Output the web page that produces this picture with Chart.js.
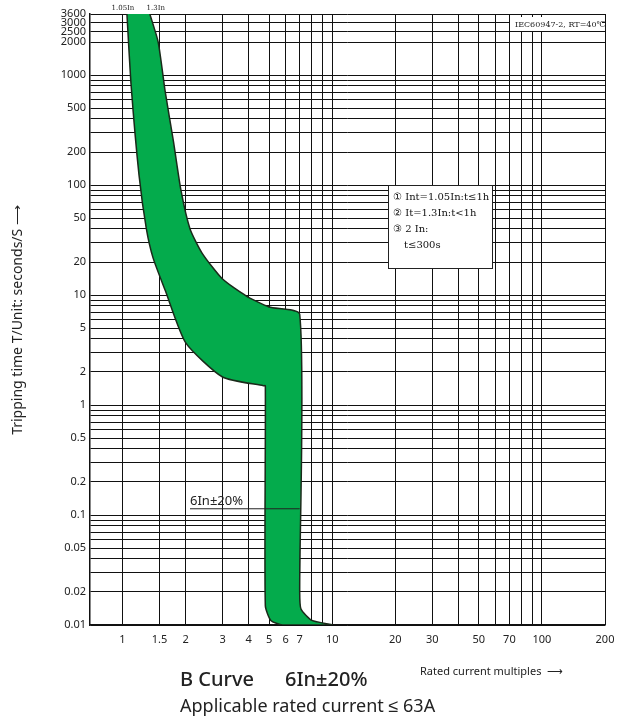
<!DOCTYPE html>
<html>
<head>
<meta charset="utf-8">
<script src="https://cdn.jsdelivr.net/npm/chart.js@4"></script>
<style>
  html, body { margin: 0; padding: 0; background: #fff; }
  #wrap { width: 623px; height: 720px; position: relative; }
</style>
</head>
<body>
<div id="wrap"><canvas id="chart"></canvas></div>
<script>
// left (fast) boundary of the band, top to bottom
const LEFT_X = [1.05, 1.1, 1.2, 1.3, 1.4, 1.6, 2, 3, 4.7, 4.8, 4.8, 5.1, 5.8];
const LEFT_T = [3600, 800, 122, 40, 21.7, 11, 3.7, 1.8, 1.5, 1.5, 0.015, 0.011, 0.01];
// right (slow) boundary of the band, bottom to top
const RIGHT_X = [10, 8, 7.1, 7, 7, 5, 3.9, 3, 2.4, 2.1, 1.9, 1.75, 1.6, 1.48, 1.35];
const RIGHT_T = [0.01, 0.011, 0.014, 0.02, 6.7, 7.8, 9.8, 14, 24, 40, 90, 250, 700, 2000, 3600];

const X_LABELS = [1, 1.5, 2, 3, 4, 5, 6, 7, 10, 20, 30, 50, 70, 100, 200];
const X_GRID = [1, 1.5, 2, 3, 4, 5, 6, 7, 8, 9, 10, 20, 30, 40, 50, 60, 70, 80, 90, 100, 200];
const Y_LABELS = [3600, 3000, 2500, 2000, 1000, 500, 200, 100, 50, 20, 10, 5, 2, 1, 0.5, 0.2, 0.1, 0.05, 0.02, 0.01];
const Y_GRID = [];
[0.01, 0.1, 1, 10, 100, 1000].forEach((d) => {
  for (let k = 1; k <= 9; k++) if (d * k <= 3600) Y_GRID.push(+(d * k).toPrecision(3));
});
Y_GRID.push(2500, 3600);

const FONT = "'Noto Sans', sans-serif";
const bandPoints = LEFT_X.map((x, i) => ({ x, y: LEFT_T[i] }))
  .concat(RIGHT_X.map((x, i) => ({ x, y: RIGHT_T[i] })));

const textPlugin = {
  id: "texts",
  afterDraw(chart) {
    const { ctx, chartArea: a, scales } = chart;
    const xs = scales.x, ys = scales.y;
    ctx.save();
    ctx.fillStyle = "#222";
    ctx.font = "7px 'DejaVu Serif', serif";
    ctx.textAlign = "center";
    ctx.fillText("1.05In", xs.getPixelForValue(1.05) - 4, a.top - 4);
    ctx.fillText("1.3In", xs.getPixelForValue(1.35) + 6, a.top - 4);

    // standard label box
    ctx.fillStyle = "#fff";
    ctx.fillRect(510, 17, 92, 14);
    ctx.fillStyle = "#222";
    ctx.textAlign = "left";
    ctx.font = "8px 'DejaVu Serif', serif";
    ctx.fillText("IEC60947-2, RT=40℃", 515, 27);

    // notes box
    ctx.fillStyle = "#fff";
    ctx.fillRect(388, 185, 104, 83);
    ctx.strokeStyle = "#222";
    ctx.lineWidth = 1;
    ctx.strokeRect(388.5, 185.5, 104, 83);
    ctx.fillStyle = "#111";
    ctx.font = "10px 'DejaVu Serif', serif";
    ctx.fillText("① Int=1.05In:t≤1h", 393, 200);
    ctx.fillText("② It=1.3In:t<1h", 393, 216);
    ctx.fillText("③ 2 In:", 393, 232);
    ctx.fillText("t≤300s", 404, 248);

    // 6In annotation
    const yA = ys.getPixelForValue(0.114);
    ctx.font = "13px " + FONT;
    ctx.fillStyle = "#222";
    ctx.fillText("6In±20%", 190, yA - 4);
    ctx.beginPath();
    ctx.moveTo(190, yA);
    ctx.lineTo(xs.getPixelForValue(7), yA);
    ctx.stroke();

    // axis titles
    ctx.font = "11px " + FONT;
    ctx.fillText("Rated current multiples  ⟶", 420, 675);
    ctx.font = "500 20px " + FONT;
    ctx.fillText("B Curve", 180, 686);
    ctx.fillText("6In±20%", 285, 686);
    ctx.font = "18px " + FONT;
    ctx.fillText("Applicable rated current ≤ 63A", 180, 712);
    ctx.translate(22, 320);
    ctx.rotate(-Math.PI / 2);
    ctx.textAlign = "center";
    ctx.font = "14px " + FONT;
    ctx.fillText("Tripping time T/Unit: seconds/S ⟶", 0, 0);
    ctx.restore();
  },
};

new Chart(document.getElementById("chart"), {
  type: "scatter",
  data: {
    datasets: [{
      data: bandPoints,
      showLine: true,
      fill: "shape",
      backgroundColor: "#04ab4c",
      borderColor: "#1a2a1a",
      borderWidth: 1.5,
      pointRadius: 0,
      tension: 0.2,
    }],
  },
  options: {
    responsive: true,
    maintainAspectRatio: false,
    animation: false,
    layout: { padding: { top: 14, right: 18, bottom: 70, left: 0 } },
    plugins: { legend: { display: false }, tooltip: { enabled: false } },
    scales: {
      x: {
        type: "logarithmic",
        min: 0.7,
        max: 200,
        afterBuildTicks: (s) => { s.ticks = X_GRID.map((v) => ({ value: v })); },
        afterFit: (s) => { s.height = 25; },
        grid: { color: "#111", lineWidth: 1, drawTicks: false },
        border: { color: "#111", width: 1.5 },
        ticks: {
          autoSkip: false, maxRotation: 0, color: "#222", padding: 8,
          font: { family: "'Noto Sans'", size: 11 },
          callback: (v) => (X_LABELS.includes(v) ? String(v) : ""),
        },
      },
      y: {
        type: "logarithmic",
        min: 0.01,
        max: 3600,
        afterBuildTicks: (s) => { s.ticks = Y_GRID.map((v) => ({ value: v })); },
        afterFit: (s) => { s.width = 90; },
        grid: { color: "#111", lineWidth: 1, drawTicks: false },
        border: { color: "#111", width: 1.5 },
        ticks: {
          autoSkip: false, color: "#222", padding: 4,
          font: { family: "'Noto Sans'", size: 11 },
          callback: (v) => (Y_LABELS.includes(v) ? String(v) : ""),
        },
      },
    },
  },
  plugins: [textPlugin],
});
</script>
</body>
</html>
